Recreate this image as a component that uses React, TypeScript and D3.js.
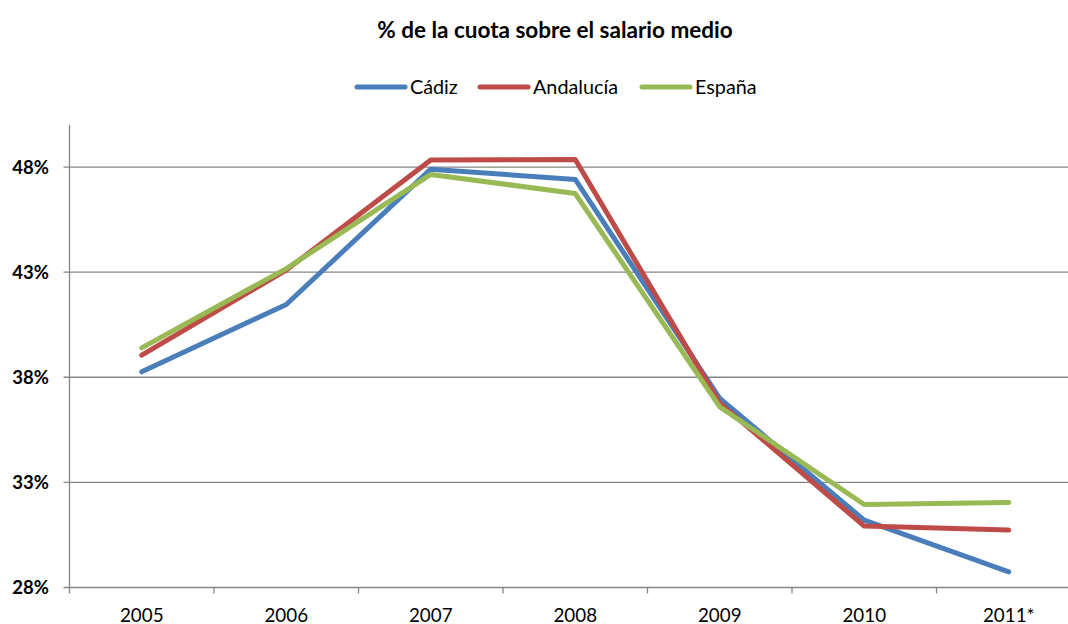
import React from 'react';
import * as d3 from 'd3';

const years = ['2005', '2006', '2007', '2008', '2009', '2010', '2011*'];
const cadiz = [38.26, 41.46, 47.9, 47.41, 37.0, 31.2, 28.74];
const andalucia = [39.05, 43.1, 48.33, 48.36, 36.77, 30.92, 30.73];
const espana = [39.4, 43.17, 47.65, 46.74, 36.59, 31.95, 32.04];
const yTicks = [28, 33, 38, 43, 48];

const series = [
  { name: 'Cádiz', values: cadiz, color: '#4a7ebb' },
  { name: 'Andalucía', values: andalucia, color: '#be4b48' },
  { name: 'España', values: espana, color: '#98b954' },
];

const width = 1068;
const height = 624;
const plot = { left: 69.5, right: 1081, top: 125, bottom: 587.5 };
const font = 'Lato, "Open Sans", sans-serif';
const grey = '#868686';

export default function App() {
  const x = d3.scaleBand<string>().domain(years).range([plot.left, plot.right]);
  const y = d3.scaleLinear().domain([28, 50]).range([plot.bottom, plot.top]);
  const cx = (d: string) => (x(d) ?? 0) + x.bandwidth() / 2;

  const line = d3.line<number>()
    .x((_, i) => cx(years[i]))
    .y((d) => y(d));

  const legendX = [357, 480, 642];
  const legendY = 87;

  return (
    <svg width={width} height={height} style={{ position: 'absolute', left: 0, top: 0, background: '#fff' }}>
      <text x={555} y={38} textAnchor="middle" fontFamily={font} fontWeight="bold" fontSize={22.5} fill="#000">
        % de la cuota sobre el salario medio
      </text>

      {series.map((s, i) => (
        <g key={s.name}>
          <line x1={legendX[i]} x2={legendX[i] + 48} y1={legendY} y2={legendY} stroke={s.color} strokeWidth={5} strokeLinecap="round" />
          <text x={legendX[i] + 53} y={legendY + 7} fontFamily={font} fontSize={19.8} fill="#000">{s.name}</text>
        </g>
      ))}

      {/* gridlines */}
      {yTicks.map((t) => (
        <g key={t}>
          <line x1={plot.left - 6} x2={plot.right} y1={y(t)} y2={y(t)} stroke={grey} strokeWidth={1.3} />
          <text x={49} y={y(t) + 6.5} textAnchor="end" fontFamily={font} fontWeight="bold" fontSize={18.5} fill="#000">{t}%</text>
        </g>
      ))}

      {/* axes */}
      <line x1={plot.left} x2={plot.left} y1={plot.top} y2={plot.bottom + 6} stroke={grey} strokeWidth={1.3} />
      {years.map((yr, i) => (
        <g key={yr}>
          {i > 0 && (
            <line x1={x(yr)} x2={x(yr)} y1={plot.bottom} y2={plot.bottom + 6} stroke={grey} strokeWidth={1.3} />
          )}
          <text x={cx(yr)} y={621.5} textAnchor="middle" fontFamily={font} fontSize={18.8} fill="#000">{yr}</text>
        </g>
      ))}

      {series.map((s) => (
        <path key={s.name} d={line(s.values) ?? ''} fill="none" stroke={s.color} strokeWidth={5} strokeLinecap="round" strokeLinejoin="round" />
      ))}
    </svg>
  );
}
